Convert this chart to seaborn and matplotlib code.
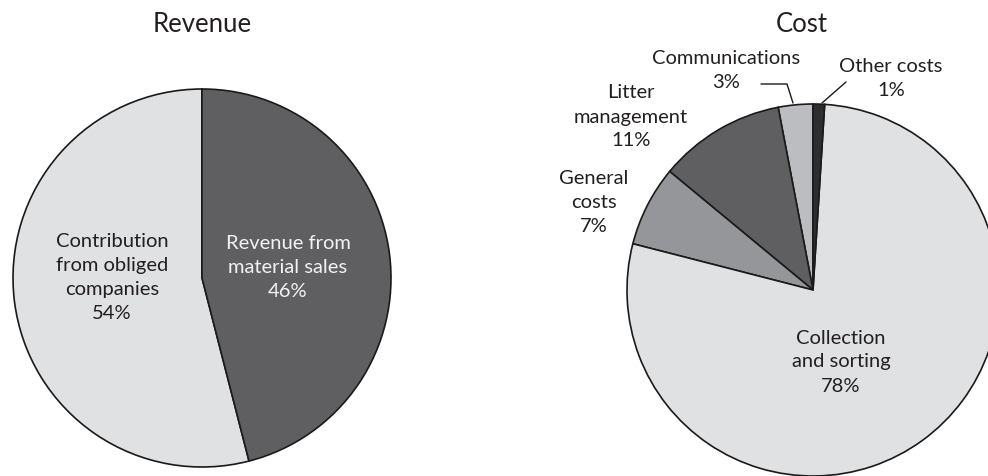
import matplotlib
matplotlib.use("Agg")
import matplotlib.pyplot as plt
import seaborn as sns

# Revenue breakdown (counter-clockwise from 12 o'clock)
rev_labels = ["Contribution\nfrom obliged\ncompanies", "Revenue from\nmaterial sales"]
rev_values = [54, 46]

# Cost breakdown (counter-clockwise from 12 o'clock)
cost_labels = ["Communications", "Litter\nmanagement", "General\ncosts",
               "Collection\nand sorting", "Other costs"]
cost_values = [3, 11, 7, 78, 1]

titles = ["Revenue", "Cost"]

sns.set_theme(style="white")
plt.rcParams["font.family"] = ["Lato", "DejaVu Sans"]

W, H = 988, 476
fig = plt.figure(figsize=(W / 100, H / 100), dpi=100)
ax = fig.add_axes([0, 0, 1, 1])
ax.set_xlim(0, W)
ax.set_ylim(0, H)
ax.set_aspect("equal")
ax.axis("off")

TXT = "#231f20"
edge = dict(edgecolor="#1a1a1a", linewidth=1.2)
LS = 1.5
FS = 14.5

# ---- Revenue pie ----
c1, r1 = (202, 198), 189
rev_colors = ["#e0e1e3", "#5f5f62"]
ax.pie(rev_values, colors=rev_colors, startangle=90, counterclock=True,
       center=c1, radius=r1, wedgeprops=edge, frame=True)
rev_pos = [(-0.476, 0.005), (0.455, 0.053)]
rev_txtc = [TXT, "#f2f2f2"]
for lab, v, (dx, dy), col in zip(rev_labels, rev_values, rev_pos, rev_txtc):
    ax.text(c1[0] + dx * r1, c1[1] + dy * r1, f"{lab}\n{v}%", ha="center",
            va="center", fontsize=FS, color=col, linespacing=LS)
ax.text(c1[0], H - 25, titles[0], ha="center", va="center", fontsize=18.5, color=TXT)

# ---- Cost pie ----
c2, r2 = (813, 186), 186
cost_colors = ["#bcbdc0", "#5f5f62", "#959699", "#e0e1e3", "#2e2e30"]
ax.pie(cost_values, colors=cost_colors, startangle=90, counterclock=True,
       center=c2, radius=r2, wedgeprops=edge, frame=True)
cost_pos = [(726, H - 71), (631, H - 117), (594, H - 202), (841, H - 362), (891, H - 78)]
for lab, v, (x, y) in zip(cost_labels, cost_values, cost_pos):
    ax.text(x, y, f"{lab}\n{v}%", ha="center", va="center", fontsize=FS,
            color=TXT, linespacing=LS)
ax.text(802, H - 25, titles[1], ha="center", va="center", fontsize=18.5, color=TXT)

# leader lines for the two thin slices
ax.plot([761, 787, 793], [H - 84, H - 84, H - 103], color="#1a1a1a", lw=1.0)
ax.plot([846, 822], [H - 82, H - 103], color="#1a1a1a", lw=1.0)

ax.set_xlim(0, W)
ax.set_ylim(0, H)
ax.axis("off")
fig.savefig("out.png", dpi=100, facecolor="white")
